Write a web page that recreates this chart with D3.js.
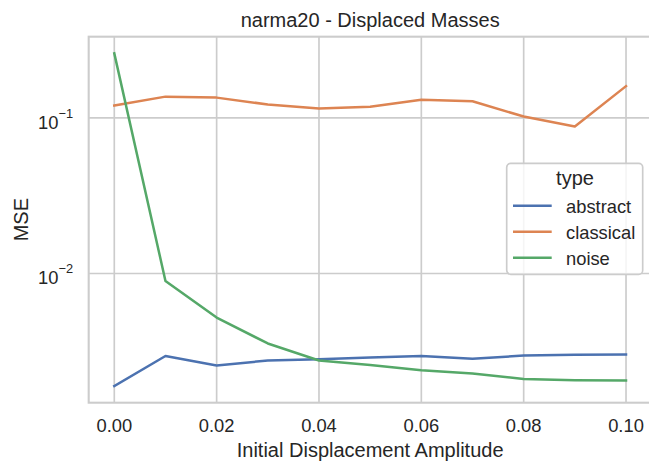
<!DOCTYPE html>
<html>
<head>
<meta charset="utf-8">
<script src="https://cdn.jsdelivr.net/npm/d3@7"></script>
<style>
  html, body { margin: 0; padding: 0; background: #fff; }
  svg { display: block; }
  text { font-family: "Liberation Sans", Arial, "DejaVu Sans", sans-serif; fill: #262626; }
</style>
</head>
<body>
<svg id="chart" width="649" height="464"></svg>
<script>
// ---- data ----
const amplitudes = [0.00, 0.01, 0.02, 0.03, 0.04, 0.05, 0.06, 0.07, 0.08, 0.09, 0.10];
const abstractMSE = [0.00189, 0.00295, 0.00256, 0.00276, 0.00281, 0.00288, 0.00295, 0.00283, 0.00297, 0.00300, 0.00301];
const classicalMSE = [0.120, 0.137, 0.135, 0.122, 0.115, 0.118, 0.131, 0.128, 0.102, 0.088, 0.160];
const noiseMSE = [0.260, 0.00896, 0.00521, 0.00355, 0.00276, 0.00258, 0.00239, 0.00228, 0.00210, 0.00206, 0.00205];
const seriesNames = ["abstract", "classical", "noise"];
const xTicks = [0.00, 0.02, 0.04, 0.06, 0.08, 0.10];
const yTicks = [0.1, 0.01];
const yTickExponents = ["−1", "−2"];

const seriesValues = [abstractMSE, classicalMSE, noiseMSE];
const colors = ["#4c72b0", "#dd8452", "#55a868"];

const svg = d3.select("#chart");
const pLeft = 88.7, pRight = 651.6, pTop = 36.7, pBottom = 402.7;

// x scale with 5% margins
const xMin = d3.min(amplitudes), xMax = d3.max(amplitudes);
const xPad = (xMax - xMin) * 0.05;
const x = d3.scaleLinear().domain([xMin - xPad, xMax + xPad]).range([pLeft, pRight]);

// log y scale with 5% margins in log space
const allVals = seriesValues.flat();
const lo = Math.log10(d3.min(allVals)), hi = Math.log10(d3.max(allVals));
const lPad = (hi - lo) * 0.05;
const y = d3.scaleLog().domain([Math.pow(10, lo - lPad), Math.pow(10, hi + lPad)]).range([pBottom, pTop]);

// grid
const g = svg.append("g");
g.selectAll(".xg").data(xTicks).enter().append("line")
  .attr("x1", d => x(d)).attr("x2", d => x(d))
  .attr("y1", pTop).attr("y2", pBottom)
  .attr("stroke", "#cccccc").attr("stroke-width", 1.67);
g.selectAll(".yg").data(yTicks).enter().append("line")
  .attr("x1", pLeft).attr("x2", pRight)
  .attr("y1", d => y(d)).attr("y2", d => y(d))
  .attr("stroke", "#cccccc").attr("stroke-width", 1.67);

// spines
svg.append("rect").attr("x", pLeft).attr("y", pTop)
  .attr("width", pRight - pLeft).attr("height", pBottom - pTop)
  .attr("fill", "none").attr("stroke", "#cccccc").attr("stroke-width", 2.08);

// lines
const line = d3.line().x((d, i) => x(amplitudes[i])).y(d => y(d));
seriesValues.forEach((vals, k) => {
  svg.append("path").datum(vals)
    .attr("d", line)
    .attr("fill", "none")
    .attr("stroke", colors[k])
    .attr("stroke-width", 2.5)
    .attr("stroke-linejoin", "round")
    .attr("stroke-linecap", "square");
});

// x tick labels
svg.selectAll(".xt").data(xTicks).enter().append("text")
  .attr("x", d => x(d)).attr("y", 432.3)
  .attr("text-anchor", "middle")
  .attr("font-size", 18.33)
  .text(d => d3.format(".2f")(d));

// y tick labels
yTicks.forEach((v, i) => {
  const t = svg.append("text")
    .attr("x", 73).attr("y", y(v) + 11)
    .attr("text-anchor", "end")
    .attr("font-size", 18.33);
  t.append("tspan").text("10");
  t.append("tspan").attr("dy", -11).attr("font-size", 12.8).text(yTickExponents[i]);
});

// axis labels
svg.append("text").attr("x", (pLeft + pRight) / 2).attr("y", 457)
  .attr("text-anchor", "middle").attr("font-size", 20)
  .text("Initial Displacement Amplitude");
svg.append("text")
  .attr("transform", `translate(28,${(pTop + pBottom) / 2}) rotate(-90)`)
  .attr("text-anchor", "middle").attr("font-size", 20)
  .text("MSE");

// title
svg.append("text").attr("x", (pLeft + pRight) / 2).attr("y", 27)
  .attr("text-anchor", "middle").attr("font-size", 20)
  .text("narma20 - Displaced Masses");

// legend
const lg = svg.append("g");
lg.append("rect").attr("x", 506.7).attr("y", 163.3)
  .attr("width", 136).attr("height", 111)
  .attr("rx", 4).attr("ry", 4)
  .attr("fill", "rgba(255,255,255,0.8)")
  .attr("stroke", "#cccccc").attr("stroke-width", 1.67);
lg.append("text").attr("x", 575).attr("y", 184.5)
  .attr("text-anchor", "middle").attr("font-size", 20).text("type");
seriesNames.forEach((name, k) => {
  const yy = 205.7 + k * 26;
  lg.append("line").attr("x1", 513).attr("x2", 551.7)
    .attr("y1", yy).attr("y2", yy)
    .attr("stroke", colors[k]).attr("stroke-width", 2.5);
  lg.append("text").attr("x", 566).attr("y", yy + 7.3)
    .attr("font-size", 18.33).text(name);
});
</script>
</body>
</html>
